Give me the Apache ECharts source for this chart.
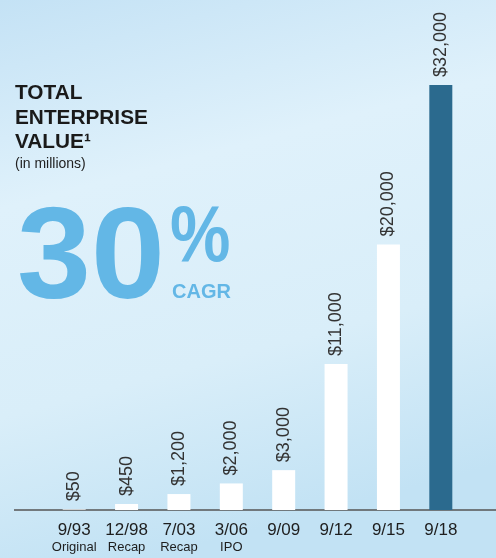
<!DOCTYPE html>
<html><head><meta charset="utf-8">
<script src="https://cdn.jsdelivr.net/npm/echarts@6/dist/echarts.min.js"></script>
<style>html,body{margin:0;padding:0;}#c{width:496px;height:558px;}</style>
</head><body><div id="c"></div>
<script>
const categories = ['9/93', '12/98', '7/03', '3/06', '9/09', '9/12', '9/15', '9/18'];
const subLabels = ['Original', 'Recap', 'Recap', 'IPO', '', '', '', ''];
const values = [50, 450, 1200, 2000, 3000, 11000, 20000, 32000];
const valueLabels = ['$50', '$450', '$1,200', '$2,000', '$3,000', '$11,000', '$20,000', '$32,000'];

const font = '"Liberation Sans", Arial, Helvetica, sans-serif';
const blue = '#63b7e6';
function txt(x, y, text, size, weight, color, extra) {
  return Object.assign({ type: 'text', x: x, y: y, style: {
    text: text, fontFamily: font, fontSize: size, fontWeight: weight, fill: color,
    textVerticalAlign: 'top'
  } }, extra || {});
}
const chart = echarts.init(document.getElementById('c'));
chart.setOption({
  backgroundColor: {
    type: 'linear', x: 0, y: 0, x2: 0.3, y2: 1,
    colorStops: [
      { offset: 0, color: '#c4e2f5' },
      { offset: 0.35, color: '#dff1fb' },
      { offset: 0.7, color: '#d9eef9' },
      { offset: 1, color: '#c2e2f4' }
    ]
  },
  grid: { left: 48, right: 29, top: 85, bottom: 48 },
  xAxis: {
    type: 'category', data: categories,
    axisLine: { show: false }, axisTick: { show: false },
    axisLabel: {
      interval: 0, margin: 12,
      formatter: function (v, i) {
        return subLabels[i] ? '{a|' + v + '}\n{b|' + subLabels[i] + '}' : '{a|' + v + '}';
      },
      verticalAlign: 'top',
      rich: {
        a: { fontFamily: font, fontSize: 17, color: '#1e1e1e', lineHeight: 17 },
        b: { fontFamily: font, fontSize: 13, color: '#1e1e1e', lineHeight: 16 }
      }
    }
  },
  yAxis: { type: 'value', min: 0, max: 32000, show: false, splitLine: { show: false } },
  series: [{
    type: 'bar', data: values.map((v, i) => ({
      value: v,
      itemStyle: { color: i === values.length - 1 ? '#2b6a8e' : '#ffffff' }
    })),
    barWidth: 23,
    label: {
      show: true, position: 'top', rotate: 90, align: 'left', verticalAlign: 'middle',
      distance: 8, fontFamily: font, fontSize: 18, color: '#333',
      formatter: p => valueLabels[p.dataIndex]
    }
  }],
  graphic: [
    { type: 'line', shape: { x1: 14, y1: 510, x2: 496, y2: 510 }, style: { stroke: '#555', lineWidth: 1.5 } },
    txt(15, 83, 'TOTAL', 20.8, 'bold', '#1a1a1a'),
    txt(15, 108, 'ENTERPRISE', 20.8, 'bold', '#1a1a1a'),
    txt(15, 132, 'VALUE¹', 20.8, 'bold', '#1a1a1a'),
    txt(15, 157, '(in millions)', 14, 'normal', '#222'),
    txt(17, 198, '30', 129, 'bold', blue, { scaleX: 1.03 }),
    txt(170, 199, '%', 80, 'bold', blue, { scaleX: 0.85 }),
    txt(172, 282, 'CAGR', 20, 'bold', blue)
  ]
});
</script></body></html>
